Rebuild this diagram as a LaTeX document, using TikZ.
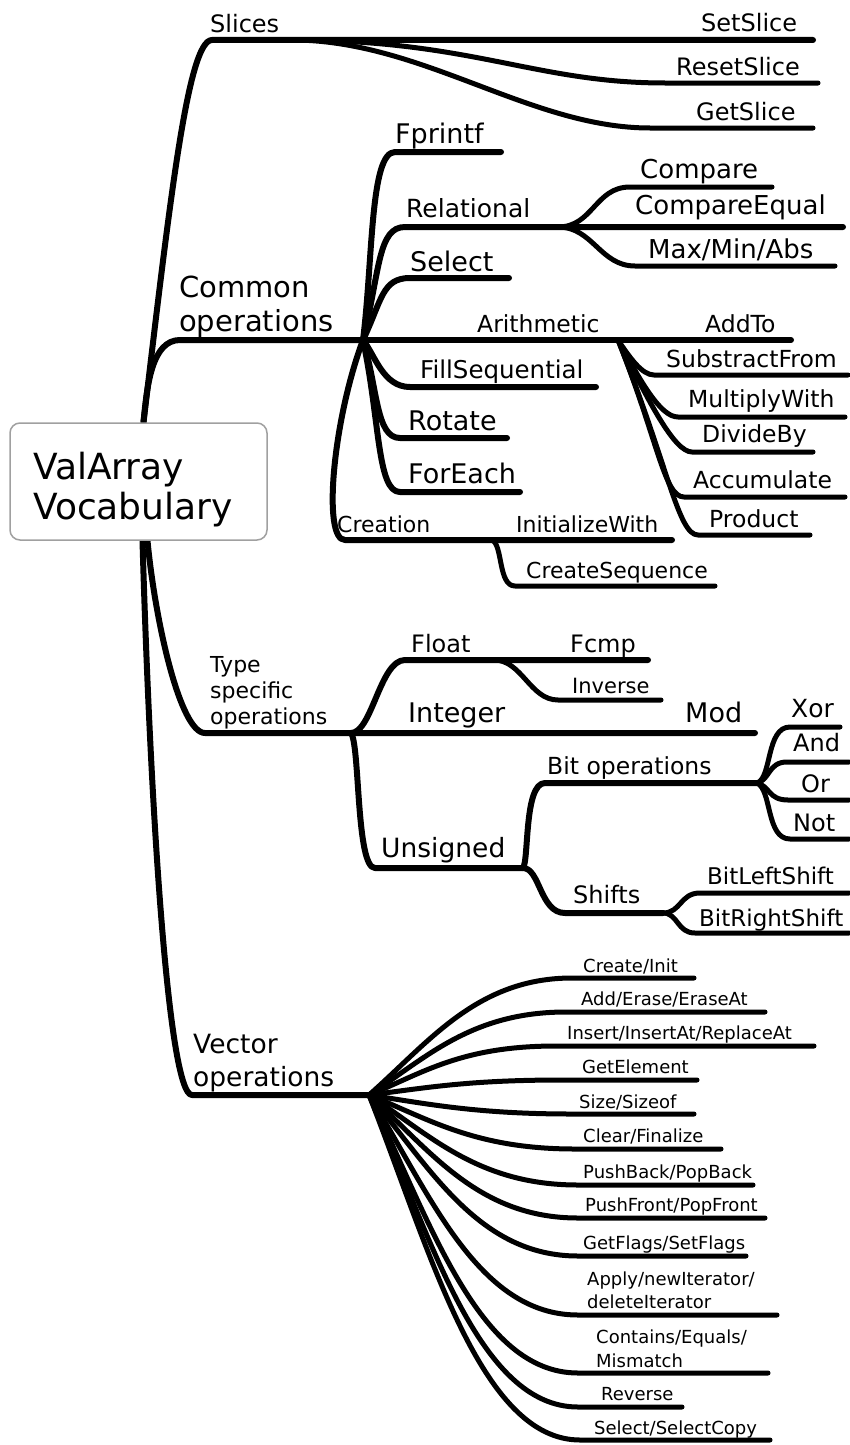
\documentclass[tikz,border=0pt]{standalone}
\usepackage{fontspec}
\setmainfont{DejaVu Sans}
\usepackage{tikz}
\usetikzlibrary{backgrounds}
\definecolor{boxgray}{RGB}{160,160,160}
\newcommand{\twolines}[1]{\begin{tabular}[t]{@{}l@{}}#1\end{tabular}}

\begin{document}
\begin{tikzpicture}[x=1pt,y=-1pt,
	br/.style={line width=6pt,line cap=round,line join=round},
	lf/.style={line width=5pt,line cap=round,line join=round},
	lbl/.style={anchor=base west,inner sep=0pt,font=\fontsize{#1}{#1}\selectfont}]
	\useasboundingbox (0,0) rectangle (850,1445);

	% the root
	\node[draw=boxgray,line width=1.5pt,rounded corners=10pt,fill=white,
	      minimum width=257pt,minimum height=117pt] (root) at (138.5,481.5) {};
	\node[lbl=36,font=\fontsize{36}{40}\selectfont] (tRoot) at (33,479) {\twolines{ValArray\\Vocabulary}};

	% corners and ends of the branches
	\coordinate (sl) at (212,40);
	\coordinate (slJ) at (292,40);
	\coordinate (slSetE) at (813,40);
	\coordinate (slReset) at (665,83);
	\coordinate (slResetE) at (818,83);
	\coordinate (slGet) at (650,128);
	\coordinate (slGetE) at (813,128);

	\coordinate (co) at (180,340);
	\coordinate (coJ) at (363,340);
	\coordinate (fp) at (395,152);
	\coordinate (fpE) at (501,152);
	\coordinate (re) at (405,227);
	\coordinate (reJ) at (558,227);
	\coordinate (reEqE) at (843,227);
	\coordinate (cmp) at (630,187);
	\coordinate (cmpE) at (772,187);
	\coordinate (mx) at (635,266);
	\coordinate (mxE) at (835,266);
	\coordinate (se) at (410,278);
	\coordinate (seE) at (509,278);
	\coordinate (arJ) at (618,340);
	\coordinate (arAddE) at (791,340);
	\coordinate (su) at (654,375);
	\coordinate (suE) at (848,375);
	\coordinate (mu) at (678,417);
	\coordinate (muE) at (845,417);
	\coordinate (di) at (692,452);
	\coordinate (diE) at (813,452);
	\coordinate (ac) at (684,497);
	\coordinate (acE) at (845,497);
	\coordinate (pr) at (698,535);
	\coordinate (prE) at (810,535);
	\coordinate (fs) at (410,387);
	\coordinate (fsE) at (596,387);
	\coordinate (ro) at (400,438);
	\coordinate (roE) at (507,438);
	\coordinate (fe) at (400,492);
	\coordinate (feE) at (520,492);
	\coordinate (cr) at (345,540);
	\coordinate (crJ) at (492,540);
	\coordinate (crInitE) at (672,540);
	\coordinate (crSeq) at (515,586);
	\coordinate (crSeqE) at (715,586);

	\coordinate (ty) at (205,733);
	\coordinate (tyJ) at (351,733);
	\coordinate (tyModE) at (755,733);
	\coordinate (fl) at (405,660);
	\coordinate (flJ) at (494,660);
	\coordinate (flE) at (648,660);
	\coordinate (iv) at (558,700);
	\coordinate (ivE) at (661,700);
	\coordinate (un) at (375,868);
	\coordinate (unJ) at (523,868);
	\coordinate (bo) at (545,783);
	\coordinate (boJ) at (757,783);
	\coordinate (bXor) at (790,727);
	\coordinate (bXorE) at (840,727);
	\coordinate (bAnd) at (787,762);
	\coordinate (bAndE) at (849,762);
	\coordinate (bOr) at (788,800);
	\coordinate (bOrE) at (849,800);
	\coordinate (bNot) at (790,839);
	\coordinate (bNotE) at (849,839);
	\coordinate (sh) at (565,913);
	\coordinate (shJ) at (663,913);
	\coordinate (shL) at (700,893);
	\coordinate (shLE) at (849,893);
	\coordinate (shR) at (695,933);
	\coordinate (shRE) at (849,933);

	\coordinate (ve) at (192,1095);
	\coordinate (veJ) at (369,1095);
	\coordinate (v1) at (572,978);   \coordinate (v1E) at (694,978);
	\coordinate (v2) at (566,1012);  \coordinate (v2E) at (765,1012);
	\coordinate (v3) at (556,1046);  \coordinate (v3E) at (814,1046);
	\coordinate (v4) at (562,1080);  \coordinate (v4E) at (697,1080);
	\coordinate (v5) at (572,1114);  \coordinate (v5E) at (694,1114);
	\coordinate (v6) at (575,1149);  \coordinate (v6E) at (721,1149);
	\coordinate (v7) at (578,1185);  \coordinate (v7E) at (753,1185);
	\coordinate (v8) at (578,1218);  \coordinate (v8E) at (765,1218);
	\coordinate (v9) at (578,1256);  \coordinate (v9E) at (746,1256);
	\coordinate (v10) at (578,1315); \coordinate (v10E) at (777,1315);
	\coordinate (v11) at (578,1373); \coordinate (v11E) at (768,1373);
	\coordinate (v12) at (578,1407); \coordinate (v12E) at (682,1407);
	\coordinate (v13) at (580,1440); \coordinate (v13E) at (770,1440);

	\begin{scope}[on background layer]
		% Slices
		\draw[br] ([xshift=5pt]root.north) .. controls (170,200) and (188,40) .. (sl) -- (slSetE);
		\draw[lf] (slJ) .. controls +(180,0) and +(-130,0) .. (slReset) -- (slResetE);
		\draw[lf] (slJ) .. controls +(130,0) and +(-120,0) .. (slGet) -- (slGetE);

		% Common operations
		\draw[br] ([xshift=5pt]root.north) .. controls (147,385) and (152,340) .. (co) -- (coJ);
		\draw[br] (coJ) .. controls (373,260) and (370,152) .. (fp) -- (fpE);
		\draw[br] (coJ) .. controls (380,270) and (378,227) .. (re) -- (reJ) -- (reEqE);
		\draw[lf] (reJ) .. controls +(35,0) and +(-35,0) .. (cmp) -- (cmpE);
		\draw[lf] (reJ) .. controls +(35,0) and +(-35,0) .. (mx) -- (mxE);
		\draw[br] (coJ) .. controls (382,300) and (382,278) .. (se) -- (seE);
		\draw[br] (coJ) -- (arJ) -- (arAddE);
		\draw[lf] (arJ) .. controls +(12,18) and +(-12,0) .. (su) -- (suE);
		\draw[lf] (arJ) .. controls +(22,40) and +(-18,0) .. (mu) -- (muE);
		\draw[lf] (arJ) .. controls +(30,60) and +(-18,0) .. (di) -- (diE);
		\draw[lf] (arJ) .. controls +(40,100) and +(-20,0) .. (ac) -- (acE);
		\draw[lf] (arJ) .. controls +(50,125) and +(-20,0) .. (pr) -- (prE);
		\draw[br] (coJ) .. controls (375,355) and (383,387) .. (fs) -- (fsE);
		\draw[br] (coJ) .. controls (378,390) and (376,438) .. (ro) -- (roE);
		\draw[br] (coJ) .. controls (380,420) and (377,492) .. (fe) -- (feE);
		\draw[br] (coJ) .. controls (333,420) and (322,540) .. (cr) -- (crInitE);
		\draw[lf] (crJ) .. controls (503,545) and (498,586) .. (crSeq) -- (crSeqE);

		% Type specific operations
		\draw[br] ([xshift=9pt]root.south) .. controls (155,620) and (180,733) .. (ty) -- (tyModE);
		\draw[br] (tyJ) .. controls (372,733) and (380,660) .. (fl) -- (flE);
		\draw[lf] (flJ) .. controls +(28,0) and +(-28,0) .. (iv) -- (ivE);
		\draw[br] (tyJ) .. controls (360,745) and (356,868) .. (un) -- (unJ);
		\draw[br] (unJ) .. controls (529,860) and (524,783) .. (bo) -- (boJ);
		\draw[lf] (boJ) .. controls (772,778) and (766,727) .. (bXor) -- (bXorE);
		\draw[lf] (boJ) .. controls (770,780) and (768,762) .. (bAnd) -- (bAndE);
		\draw[lf] (boJ) .. controls (770,786) and (768,800) .. (bOr) -- (bOrE);
		\draw[lf] (boJ) .. controls (772,790) and (766,839) .. (bNot) -- (bNotE);
		\draw[br] (unJ) .. controls (540,868) and (540,913) .. (sh) -- (shJ);
		\draw[lf] (shJ) .. controls +(18,0) and +(-20,0) .. (shL) -- (shLE);
		\draw[lf] (shJ) .. controls +(15,0) and +(-18,0) .. (shR) -- (shRE);

		% Vector operations
		\draw[br] ([xshift=4pt]root.south) .. controls (150,800) and (168,1095) .. (ve) -- (veJ);
		\draw[lf] (veJ) .. controls +(60,-53) and +(-95,0) .. (v1) -- (v1E);
		\draw[lf] (veJ) .. controls +(57,-37) and +(-95,0) .. (v2) -- (v2E);
		\draw[lf] (veJ) .. controls +(54,-22) and +(-95,0) .. (v3) -- (v3E);
		\draw[lf] (veJ) .. controls +(56,-7) and +(-95,0) .. (v4) -- (v4E);
		\draw[lf] (veJ) .. controls +(59,9) and +(-95,0) .. (v5) -- (v5E);
		\draw[lf] (veJ) .. controls +(60,24) and +(-100,0) .. (v6) -- (v6E);
		\draw[lf] (veJ) .. controls +(61,40) and +(-100,0) .. (v7) -- (v7E);
		\draw[lf] (veJ) .. controls +(61,55) and +(-100,0) .. (v8) -- (v8E);
		\draw[lf] (veJ) .. controls +(61,72) and +(-100,0) .. (v9) -- (v9E);
		\draw[lf] (veJ) .. controls +(61,99) and +(-100,0) .. (v10) -- (v10E);
		\draw[lf] (veJ) .. controls +(61,125) and +(-100,0) .. (v11) -- (v11E);
		\draw[lf] (veJ) .. controls +(61,140) and +(-100,0) .. (v12) -- (v12E);
		\draw[lf] (veJ) .. controls +(61,155) and +(-100,0) .. (v13) -- (v13E);
	\end{scope}

	% labels
	\node[lbl=24] (tSl) at (210,33) {Slices};
	\node[lbl=24] (tSlSet) at (701,32) {SetSlice};
	\node[lbl=24] (tSlReset) at (676,75) {ResetSlice};
	\node[lbl=24] (tSlGet) at (696,120) {GetSlice};

	\node[lbl=29,font=\fontsize{29}{34}\selectfont] (tCo) at (179,297) {\twolines{Common\\operations}};
	\node[lbl=27] (tFp) at (395,143) {Fprintf};
	\node[lbl=25] (tRe) at (406,217) {Relational};
	\node[lbl=26] (tCmp) at (640,178) {Compare};
	\node[lbl=26] (tCmpEq) at (635,214) {CompareEqual};
	\node[lbl=26] (tMx) at (648,258) {Max/Min/Abs};
	\node[lbl=27] (tSe) at (410,271) {Select};
	\node[lbl=23.5] (tAr) at (477,332) {Arithmetic};
	\node[lbl=23.5] (tAdd) at (705,332) {AddTo};
	\node[lbl=23.5] (tSu) at (666,367) {SubstractFrom};
	\node[lbl=23.5] (tMu) at (688,407) {MultiplyWith};
	\node[lbl=23.5] (tDi) at (702,442) {DivideBy};
	\node[lbl=23.5] (tAc) at (693,488) {Accumulate};
	\node[lbl=23.5] (tPr) at (709,527) {Product};
	\node[lbl=24.5] (tFs) at (420,378) {FillSequential};
	\node[lbl=27] (tRo) at (408,430) {Rotate};
	\node[lbl=27] (tFe) at (408,483) {ForEach};
	\node[lbl=22] (tCr) at (337,532) {Creation};
	\node[lbl=22] (tCrInit) at (516,532) {InitializeWith};
	\node[lbl=22] (tCrSeq) at (526,578) {CreateSequence};

	\node[lbl=22,font=\fontsize{22}{26}\selectfont] (tTy) at (210,672) {\twolines{Type\\specific\\operations}};
	\node[lbl=24] (tFl) at (411,652) {Float};
	\node[lbl=24] (tFcmp) at (570,652) {Fcmp};
	\node[lbl=21] (tIv) at (572,693) {Inverse};
	\node[lbl=27] (tIn) at (408,722) {Integer};
	\node[lbl=27] (tMod) at (685,722) {Mod};
	\node[lbl=26.5] (tUn) at (381,857) {Unsigned};
	\node[lbl=23.5] (tBo) at (547,774) {Bit operations};
	\node[lbl=25] (tXor) at (791,717) {Xor};
	\node[lbl=24] (tAnd) at (793,751) {And};
	\node[lbl=24] (tOr) at (801,792) {Or};
	\node[lbl=24] (tNot) at (793,831) {Not};
	\node[lbl=24] (tSh) at (573,903) {Shifts};
	\node[lbl=23] (tShL) at (707,884) {BitLeftShift};
	\node[lbl=23] (tShR) at (699,926) {BitRightShift};

	\node[lbl=26.5,font=\fontsize{26.5}{33}\selectfont] (tVe) at (193,1053) {\twolines{Vector\\operations}};
	\node[lbl=18] (tV1) at (583,972) {Create/Init};
	\node[lbl=18] (tV2) at (581,1005) {Add/Erase/EraseAt};
	\node[lbl=18] (tV3) at (567,1039) {Insert/InsertAt/ReplaceAt};
	\node[lbl=18] (tV4) at (582,1073) {GetElement};
	\node[lbl=18] (tV5) at (579,1108) {Size/Sizeof};
	\node[lbl=18] (tV6) at (583,1142) {Clear/Finalize};
	\node[lbl=18] (tV7) at (583,1178) {PushBack/PopBack};
	\node[lbl=18] (tV8) at (585,1211) {PushFront/PopFront};
	\node[lbl=18] (tV9) at (583,1249) {GetFlags/SetFlags};
	\node[lbl=18,font=\fontsize{18}{23}\selectfont] (tV10) at (587,1285) {\twolines{Apply/newIterator/\\deleteIterator}};
	\node[lbl=18,font=\fontsize{18}{24}\selectfont] (tV11) at (596,1343) {\twolines{Contains/Equals/\\Mismatch}};
	\node[lbl=18] (tV12) at (601,1400) {Reverse};
	\node[lbl=18] (tV13) at (594,1434) {Select/SelectCopy};
\end{tikzpicture}
\end{document}
